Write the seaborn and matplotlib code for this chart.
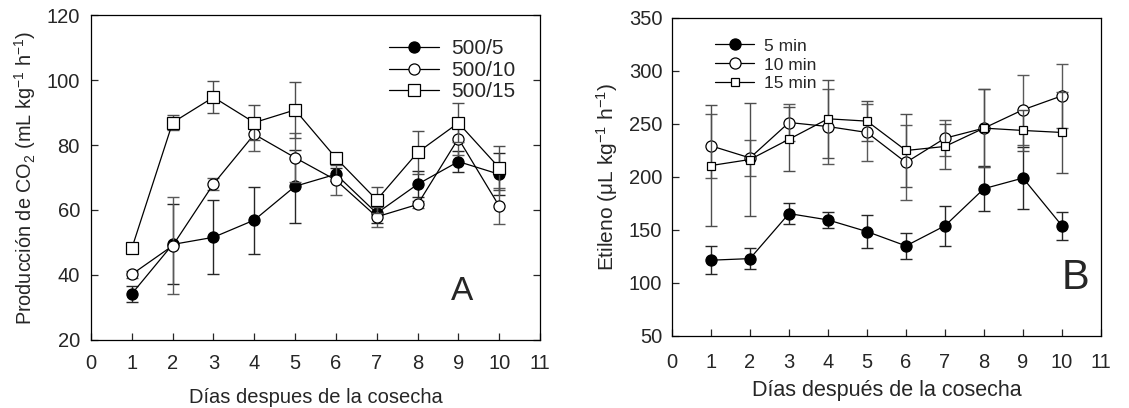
import numpy as np
import pandas as pd
import matplotlib
matplotlib.use("Agg")
import matplotlib.pyplot as plt
import seaborn as sns
from matplotlib.lines import Line2D

sns.set_theme(style="ticks")
plt.rcParams['font.family'] = ['Liberation Sans', 'DejaVu Sans']
plt.rcParams['mathtext.fontset'] = 'custom'
plt.rcParams['mathtext.rm'] = 'Liberation Sans'
plt.rcParams['mathtext.it'] = 'Liberation Sans:italic'

# ---- data ----
days = [1, 2, 3, 4, 5, 6, 7, 8, 9, 10]

# Panel A: CO2 production (mL kg-1 h-1)
co2_labels = ["500/5", "500/10", "500/15"]
co2_500_5 = [34.2, 49.4, 51.6, 56.9, 67.3, 71.0, 59.0, 67.9, 74.9, 71.0]
co2_500_5_err = [2.5, 12.3, 11.4, 10.3, 11.3, 2.0, 3.0, 4.0, 3.3, 6.4]
co2_500_10 = [40.2, 49.0, 68.0, 83.3, 76.1, 69.2, 57.9, 61.7, 82.0, 61.2]
co2_500_10_err = [1.0, 15.0, 2.0, 5.0, 7.5, 4.6, 3.0, 1.0, 5.0, 5.5]
co2_500_15 = [48.2, 86.9, 94.7, 86.9, 90.8, 76.0, 63.1, 77.7, 86.8, 73.0]
co2_500_15_err = [0.5, 2.3, 5.0, 5.3, 8.5, 1.0, 4.0, 6.6, 6.0, 6.8]

# Panel B: ethylene (uL kg-1 h-1)
eth_labels = ["5 min", "10 min", "15 min"]
eth_5 = [121.5, 123.0, 165.5, 159.5, 148.5, 135.0, 154.0, 189.0, 199.0, 154.0]
eth_5_err = [13.0, 10.0, 9.5, 7.5, 15.5, 12.5, 19.0, 21.0, 29.0, 13.0]
eth_10 = [229.4, 218.0, 251.4, 247.6, 242.0, 213.7, 236.6, 246.1, 263.4, 276.6]
eth_10_err = [30.0, 17.0, 17.0, 35.0, 27.0, 35.0, 17.0, 37.0, 33.0, 30.0]
eth_15 = [210.8, 216.5, 235.6, 254.9, 252.7, 225.0, 228.8, 246.1, 243.9, 242.0]
eth_15_err = [57.0, 53.0, 30.0, 37.0, 19.0, 34.0, 21.0, 37.0, 19.0, 38.0]

fig = plt.figure(figsize=(11.29, 4.08), dpi=100)
axA = fig.add_axes([0.0806, 0.1667, 0.3977, 0.7965])
axB = fig.add_axes([0.5952, 0.1765, 0.3800, 0.7794])


def draw_series(ax, y, err, marker, face, ms, ecol, label, z):
    df = pd.DataFrame({"day": days, "val": y})
    ax.errorbar(days, y, yerr=err, fmt='none', ecolor=ecol, elinewidth=1.0,
                capsize=4, capthick=1.0, zorder=z)
    sns.lineplot(data=df, x="day", y="val", ax=ax, color='black', lw=0.9,
                 marker=marker, markersize=ms, markerfacecolor=face,
                 markeredgecolor='black', markeredgewidth=0.9, zorder=z + 0.5,
                 legend=False)
    return Line2D([], [], color='black', lw=0.9, marker=marker, markersize=ms,
                  markerfacecolor=face, markeredgecolor='black',
                  markeredgewidth=0.9, label=label)


# ---- Panel A ----
hA = [
    draw_series(axA, co2_500_5, co2_500_5_err, 'o', 'black', 8, '0.15', co2_labels[0], 3),
    draw_series(axA, co2_500_10, co2_500_10_err, 'o', 'white', 8, '0.35', co2_labels[1], 4),
    draw_series(axA, co2_500_15, co2_500_15_err, 's', 'white', 8, '0.3', co2_labels[2], 5),
]
axA.set_xlim(0, 11)
axA.set_ylim(20, 120)
axA.set_xticks(range(0, 12))
axA.set_yticks(range(20, 121, 20))
axA.set_xlabel("Días despues de la cosecha", fontsize=14.5, labelpad=11)
axA.set_ylabel(r"Producción de CO$_2$ (mL kg$^{-1}$ h$^{-1}$)", fontsize=14.3, labelpad=6)
axA.tick_params(axis='x', direction='in', labelsize=14.5, length=5, width=0.9, pad=10)
axA.tick_params(axis='y', direction='in', labelsize=14.5, length=5, width=0.9,
                right=True, pad=8)
axA.text(9.1, 34.8, "A", fontsize=24, ha='center', va='center')
legA = axA.legend(handles=hA, loc='upper right', bbox_to_anchor=(0.978, 0.97),
                  frameon=False, fontsize=15, handlelength=2.4, handletextpad=0.6,
                  labelspacing=0.12, borderaxespad=0.3)

# ---- Panel B ----
hB = [
    draw_series(axB, eth_5, eth_5_err, 'o', 'black', 8, '0.15', eth_labels[0], 3),
    draw_series(axB, eth_10, eth_10_err, 'o', 'white', 8, '0.35', eth_labels[1], 4),
    draw_series(axB, eth_15, eth_15_err, 's', 'white', 5.5, '0.3', eth_labels[2], 5),
]
axB.set_xlim(0, 11)
axB.set_ylim(50, 350)
axB.set_xticks(range(0, 12))
axB.set_yticks(range(50, 351, 50))
axB.set_xlabel("Días después de la cosecha", fontsize=15.5, labelpad=6)
axB.set_ylabel("Etileno (μL kg$^{-1}$ h$^{-1}$)", fontsize=15, labelpad=6)
axB.tick_params(axis='x', direction='in', labelsize=14.5, length=5, width=0.9, pad=12)
axB.tick_params(axis='y', direction='in', labelsize=14.5, length=5, width=0.9, pad=7)
axB.text(10.35, 105, "B", fontsize=30, ha='center', va='center')
legB = axB.legend(handles=hB, loc='upper left', bbox_to_anchor=(0.065, 0.985),
                  frameon=False, fontsize=12.5, handlelength=2.2, handletextpad=0.6,
                  labelspacing=0.22)

for ax in (axA, axB):
    for s in ax.spines.values():
        s.set_color('black')
        s.set_linewidth(0.9)

fig.savefig("out.png", dpi=100)
